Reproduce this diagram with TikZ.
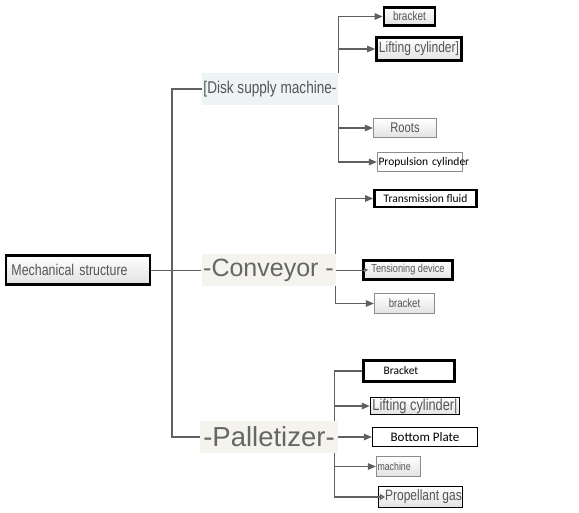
\documentclass[tikz,border=0pt]{standalone}
\usepackage{fontspec}
\setmainfont{Liberation Sans}
\newfontfamily\narrowsans[FakeStretch=0.8]{Liberation Sans}
\newfontfamily\carlito{Carlito}
\usetikzlibrary{arrows.meta}

\definecolor{linegrey}{HTML}{606060}
\definecolor{boxgrey}{HTML}{8C8C8C}
\definecolor{shadegrey}{HTML}{E2E2E2}
\definecolor{txtgrey}{HTML}{555555}
\definecolor{headgrey}{HTML}{666666}
\definecolor{diskfill}{HTML}{EEF3F6}
\definecolor{beige}{HTML}{F5F3EE}
\newcommand{\txtsize}[1]{\fontsize{#1}{#1}\selectfont}

\begin{document}
\begin{tikzpicture}[x=1pt, y=-1pt,
		line/.style={draw=linegrey, line width=1.3pt},
		tip/.style={-{Triangle[length=8pt,width=6.5pt]}},
		smalltip/.style={-{Triangle[length=4pt,width=4pt]}},
		opentip/.style={-{Triangle[open,length=5pt,width=6pt]}},
		heavy/.style={draw=black, line width=2.7pt},
		plain/.style={draw=boxgrey, line width=1.2pt},
		shade/.style={top color=white, bottom color=shadegrey},
		box/.style={inner sep=0pt, text=txtgrey},
		head/.style={inner sep=0pt, text=headgrey}]
	\useasboundingbox (0,0) rectangle (579,513);

	% Root and main groups
	\node[box, heavy, shade, minimum height=29, text width=133, inner xsep=5.5, align=left, font=\narrowsans\txtsize{15.5}] (root) at (78,270) {Mechanical structure};
	\node[head, fill=diskfill, minimum width=136, minimum height=32, font=\narrowsans\txtsize{17}, text=txtgrey] (disk) at (270,89) {[Disk supply machine-};
	\node[head, fill=beige, minimum width=134, minimum height=32, font=\txtsize{25}] (conv) at (268.5,270) {-Conveyor -};
	\node[head, fill=beige, minimum width=138, minimum height=32, font=\txtsize{27.5}] (pal) at (269,437) {-Palletizer-};

	% Parts of the disk supply machine
	\node[box, heavy, shade, minimum width=51, minimum height=18, font=\narrowsans\txtsize{12.5}] (d1) at (409.5,16.5) {bracket};
	\node[box, heavy, shade, minimum width=85, minimum height=23, font=\narrowsans\txtsize{15}] (d2) at (419,49) {Lifting cylinder]};
	\node[box, plain, shade, minimum width=63, minimum height=19, font=\narrowsans\txtsize{14}] (d3) at (405,128) {Roots};
	\node[box, plain, fill=white, text=black, minimum height=19, text width=83, inner xsep=1, align=left, font=\carlito\txtsize{11.5}] (d4) at (420,162) {\mbox{Propulsion cylinder}};

	% Parts of the conveyor
	\node[box, heavy, fill=white, text=black, minimum width=102, minimum height=17, font=\carlito\txtsize{11.5}] (c1) at (425.5,198.5) {Transmission fluid};
	\node[box, heavy, shade, minimum width=89, minimum height=19, font=\narrowsans\txtsize{11.5}] (c2) at (408,270) {Tensioning device};
	\node[box, plain, shade, minimum width=60, minimum height=20, font=\narrowsans\txtsize{12}] (c3) at (404.5,303.5) {bracket};

	% Parts of the palletizer
	\node[box, heavy, fill=white, text=black, minimum height=21, text width=51, inner xsep=20, align=left, font=\carlito\txtsize{11.5}] (p1) at (409,371) {Bracket};
	\node[box, draw=black, line width=1.4pt, shade, minimum width=89, minimum height=17, font=\narrowsans\txtsize{16}] (p2) at (415,406) {Lifting cylinder|};
	\node[box, draw=black, line width=1.2pt, fill=white, text=black, minimum width=105, minimum height=19, font=\carlito\txtsize{13}] (p3) at (425,437) {Bottom Plate};
	\node[box, plain, shade, minimum height=20, text width=42, inner xsep=1, align=left, font=\narrowsans\txtsize{11}] (p4) at (398.5,466.5) {machine};
	\node[box, draw=black, line width=1.2pt, shade, minimum width=84, minimum height=21, font=\narrowsans\txtsize{15}] (p5) at (420.5,497) {\hspace{6pt}Propellant gas};

	% Trunk
	\coordinate (fork) at (172,270);
	\draw[line] (disk.west) -| (fork) |- (pal.west);
	\draw[draw=linegrey, line width=0.9pt] (root.east) -- (conv.west);

	% Disk supply machine branches
	\draw[line, tip] (disk.north east) |- (d1.west);
	\draw[line, tip] (disk.north east) |- (d2.west);
	\draw[line, tip] (disk.south east) |- (d3.west);
	\draw[line, tip] (disk.south east) |- (d4.west);

	% Conveyor branches
	\draw[line, tip] (conv.north east) |- (c1.west);
	\draw[draw=linegrey, line width=0.9pt, smalltip] (conv.east) -- ([xshift=6pt]c2.west);
	\draw[line, tip] (conv.south east) |- (c3.west);

	% Palletizer branches
	\draw[line] ([xshift=-4pt]pal.north east) |- (p1.west);
	\draw[line, tip] ([xshift=-4pt]pal.north east) |- (p2.west);
	\draw[line, tip] (pal.east) -- (p3.west);
	\draw[line, tip] ([xshift=-4pt]pal.south east) |- (p4.west);
	\draw[line, opentip] ([xshift=-4pt]pal.south east) |- ([xshift=7pt]p5.west);
\end{tikzpicture}
\end{document}
